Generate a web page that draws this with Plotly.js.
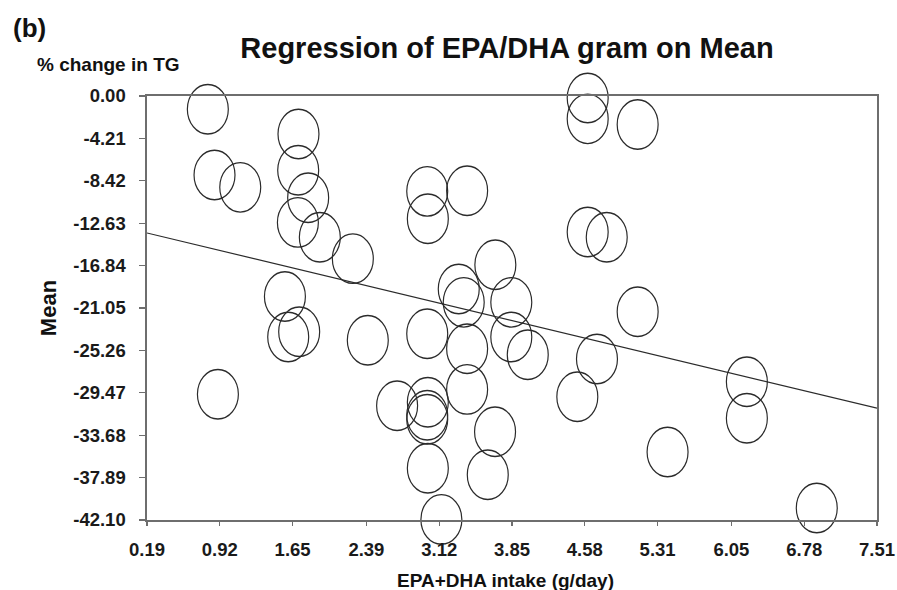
<!DOCTYPE html>
<html>
<head>
<meta charset="utf-8">
<script src="https://cdn.plot.ly/plotly-3.0.1.min.js"></script>
<style>
  html, body { margin: 0; padding: 0; background: #fff; }
  #chart { width: 897px; height: 590px; }
</style>
</head>
<body>
<div id="chart"></div>
<script>
// EPA+DHA intake (g/day) per study arm
var epaDha = [
  0.80, 0.867, 1.125, 1.709, 1.706, 1.806, 1.703, 1.923, 2.254,
  3.00, 3.006, 3.40, 3.683, 4.609, 4.609, 5.11, 4.609, 4.80, 5.11,
  1.573, 1.606, 1.716, 2.404, 0.901, 2.698, 3.00, 3.006, 3.00, 3.00,
  3.006, 3.142, 3.316, 3.366, 3.40, 3.40, 3.843, 3.843, 4.008, 3.68,
  3.607, 4.702, 4.505, 5.41, 6.205, 6.205, 6.906
];
// Mean % change in TG for each arm
var meanChange = [
  -1.32, -7.85, -9.07, -3.77, -7.38, -10.10, -12.55, -14.03, -16.15,
  -9.47, -12.18, -9.40, -16.75, -0.20, -2.27, -2.83, -13.50, -14.03, -21.42,
  -19.90, -23.93, -23.40, -24.26, -29.62, -30.75, -23.60, -30.40, -31.70, -32.10,
  -36.97, -42.04, -19.17, -20.49, -25.09, -29.13, -20.49, -23.93, -25.69, -33.33,
  -37.60, -26.12, -29.86, -35.35, -28.37, -32.00, -40.90
];
// Fitted regression line end points
var fitX = [0.19, 7.51];
var fitY = [-13.6, -31.0];

// Axis tick labels
var xTickLabels = ['0.19', '0.92', '1.65', '2.39', '3.12', '3.85', '4.58', '5.31', '6.05', '6.78', '7.51'];
var yTickLabels = ['0.00', '-4.21', '-8.42', '-12.63', '-16.84', '-21.05', '-25.26', '-29.47', '-33.68', '-37.89', '-42.10'];

var FONT = 'Liberation Sans, Arial, Helvetica, sans-serif';
var AXIS_GREY = '#6e6e6e';
var INK = '#2b2b2b';

var traces = [
  {
    type: 'scatter',
    mode: 'markers',
    x: epaDha,
    y: meanChange,
    cliponaxis: false,
    marker: {
      symbol: 'circle',
      size: 45,
      color: 'rgba(0,0,0,0)',
      line: { color: INK, width: 1.3 }
    },
    hoverinfo: 'x+y'
  },
  {
    type: 'scatter',
    mode: 'lines',
    x: fitX,
    y: fitY,
    line: { color: INK, width: 1.2 },
    hoverinfo: 'skip'
  }
];

var tickFont = { family: FONT, size: 18.5, color: '#1a1a1a', weight: 'bold' };

var layout = {
  width: 897,
  height: 590,
  paper_bgcolor: '#ffffff',
  plot_bgcolor: '#ffffff',
  showlegend: false,
  margin: { l: 147, r: 20, t: 96, b: 70 },
  title: {
    text: 'Regression of EPA/DHA gram on Mean',
    font: { family: FONT, size: 29, color: '#111', weight: 'bold' },
    x: 507 / 897,
    xanchor: 'center',
    y: 1 - 48 / 590,
    yanchor: 'middle'
  },
  xaxis: {
    range: [Number(xTickLabels[0]), Number(xTickLabels[xTickLabels.length - 1])],
    tickmode: 'array',
    tickvals: xTickLabels.map(Number),
    ticktext: xTickLabels,
    ticks: 'outside',
    ticklen: 4,
    tickwidth: 1.3,
    tickcolor: AXIS_GREY,
    ticklabelstandoff: 8,
    tickfont: tickFont,
    showgrid: false,
    zeroline: false,
    showline: true,
    mirror: true,
    linecolor: AXIS_GREY,
    linewidth: 1.6
  },
  yaxis: {
    range: [Number(yTickLabels[yTickLabels.length - 1]), Number(yTickLabels[0])],
    tickmode: 'array',
    tickvals: yTickLabels.map(Number),
    ticktext: yTickLabels,
    ticks: 'outside',
    ticklen: 6,
    tickwidth: 1.3,
    tickcolor: AXIS_GREY,
    ticklabelstandoff: 10,
    tickfont: tickFont,
    showgrid: false,
    zeroline: false,
    showline: true,
    mirror: true,
    linecolor: AXIS_GREY,
    linewidth: 1.6,
    title: {
      text: 'Mean',
      font: { family: FONT, size: 22, color: '#111', weight: 'bold' },
      standoff: 10
    }
  },
  annotations: [
    {
      text: '(b)',
      xref: 'paper', yref: 'paper',
      x: (11 - 147) / 730, y: 1 + 68 / 424,
      xanchor: 'left', yanchor: 'middle',
      showarrow: false,
      font: { family: FONT, size: 26, color: '#111', weight: 'bold' }
    },
    {
      text: '% change in TG',
      xref: 'paper', yref: 'paper',
      x: (108 - 147) / 730, y: 1 + 31 / 424,
      xanchor: 'center', yanchor: 'middle',
      showarrow: false,
      font: { family: FONT, size: 19, color: '#111', weight: 'bold' }
    },
    {
      text: 'EPA+DHA intake (g/day)',
      xref: 'paper', yref: 'paper',
      x: (505 - 147) / 730, y: -(580 - 520) / 424,
      xanchor: 'center', yanchor: 'middle',
      showarrow: false,
      font: { family: FONT, size: 19, color: '#111', weight: 'bold' }
    }
  ]
};

Plotly.newPlot('chart', traces, layout, { displayModeBar: false, staticPlot: true }).then(function (gd) {
  // Stretch the round markers into upright ellipses around their data positions
  var pts = gd.querySelectorAll('.scatterlayer .trace')[0].querySelectorAll('path.point');
  pts.forEach(function (p) {
    var t = p.getAttribute('transform') || '';
    p.setAttribute('transform', t + ' scale(0.91,1.1)');
  });
});
</script>
</body>
</html>
